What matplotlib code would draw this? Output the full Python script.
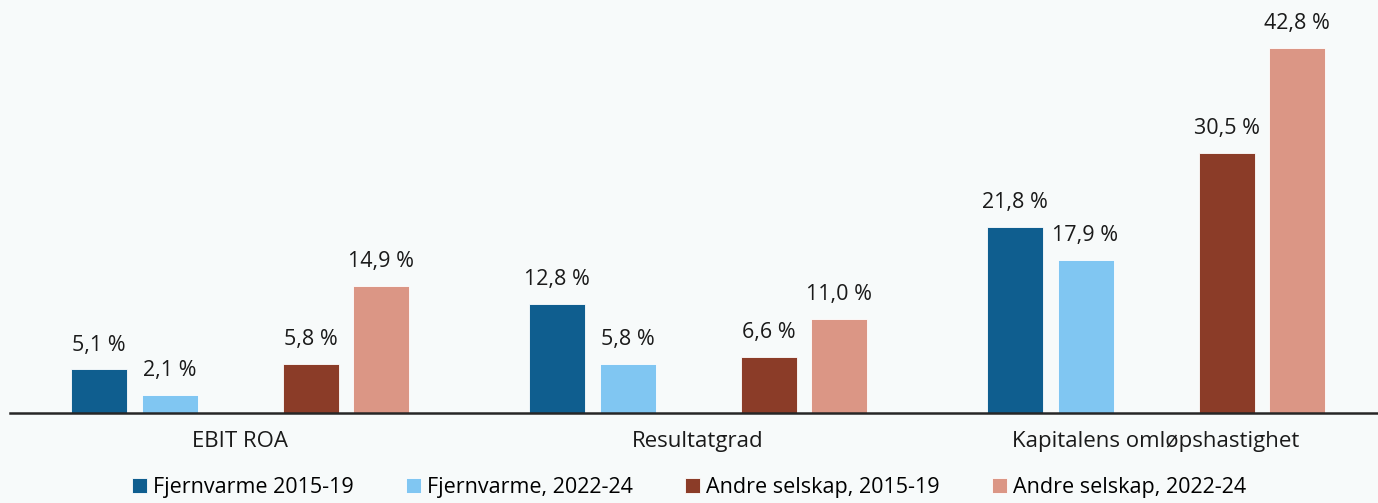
import matplotlib.pyplot as plt
import numpy as np

categories = ["EBIT ROA", "Resultatgrad", "Kapitalens omløpshastighet"]
series = ["Fjernvarme 2015-19", "Fjernvarme, 2022-24",
          "Andre selskap, 2015-19", "Andre selskap, 2022-24"]
fv_2015 = [5.1, 12.8, 21.8]
fv_2022 = [2.1, 5.8, 17.9]
andre_2015 = [5.8, 6.6, 30.5]
andre_2022 = [14.9, 11.0, 42.8]

colors = ["#0f5e8f", "#80c6f2", "#8b3c28", "#db9685"]
bg = "#f7fafa"

plt.rcParams['font.family'] = ['Open Sans', 'DejaVu Sans']

fig = plt.figure(figsize=(13.78, 5.03), dpi=100)
fig.patch.set_facecolor(bg)
ax = fig.add_axes([10 / 1378, 90 / 503, 1368 / 1378, 413 / 503])
ax.set_facecolor(bg)

x = np.arange(len(categories))
step = 70.5 / 458
width = 56 / 458
offsets = [-2, -1, 1, 2]
values = [fv_2015, fv_2022, andre_2015, andre_2022]

for vals, off, col, lab in zip(values, offsets, colors, series):
    bars = ax.bar(x + off * step, vals, width, color=col, label=lab,
                  edgecolor="white", linewidth=0.6)
    for b, v in zip(bars, vals):
        ax.annotate(f"{v:.1f} %".replace(".", ","),
                    (b.get_x() + b.get_width() / 2, v),
                    xytext=(0, 10), textcoords="offset points",
                    ha="center", va="bottom", fontsize=15.5, color="#1a1a1a")

ax.set_xlim(-230 / 458, 1138 / 458)
ax.set_ylim(0, 48.4)
ax.set_xticks(x)
ax.set_xticklabels(categories, fontsize=16, color="#1a1a1a")
ax.tick_params(axis="x", length=0, pad=13)
ax.set_yticks([])
for s in ["top", "right", "left"]:
    ax.spines[s].set_visible(False)
ax.spines["bottom"].set_color("#262626")
ax.spines["bottom"].set_linewidth(1.8)

fig.legend(loc="center", bbox_to_anchor=(0.5, 0.03), ncol=4, frameon=False,
           fontsize=15.5, handlelength=0.7, handleheight=0.7, handletextpad=0.3,
           columnspacing=2.4)

fig.savefig("out.png", dpi=100, facecolor=bg)
